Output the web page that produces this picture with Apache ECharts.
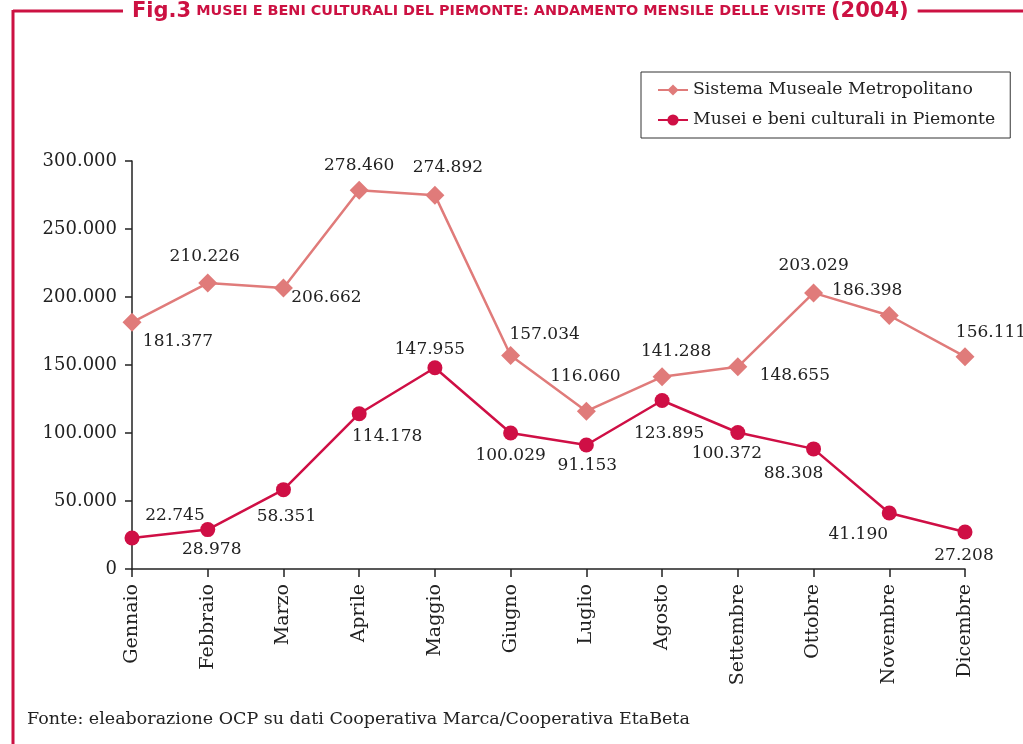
<!DOCTYPE html>
<html>
<head>
<meta charset="utf-8">
<script src="https://cdn.jsdelivr.net/npm/echarts@6/dist/echarts.min.js"></script>
<style>
  html, body { margin: 0; padding: 0; background: #fff; }
  #chart { width: 1023px; height: 744px; }
</style>
</head>
<body>
<div id="chart"></div>
<script>
// dati
const months = ["Gennaio", "Febbraio", "Marzo", "Aprile", "Maggio", "Giugno",
  "Luglio", "Agosto", "Settembre", "Ottobre", "Novembre", "Dicembre"];
const sistemaMuseale = [181377, 210226, 206662, 278460, 274892, 157034,
  116060, 141288, 148655, 203029, 186398, 156111];
const museiPiemonte = [22745, 28978, 58351, 114178, 147955, 100029,
  91153, 123895, 100372, 88308, 41190, 27208];
const yTicks = [0, 50000, 100000, 150000, 200000, 250000, 300000];

// posizione delle etichette rispetto al punto
const offSistema = [[46, 19], [-3, -27], [43, 10], [0, -25], [13, -28], [34, -21],
  [-1, -35], [14, -25], [57, 9], [0, -27], [-22, -25], [26, -24]];
const offPiemonte = [[43, -22], [4, 20], [3, 27], [28, 23], [-5, -18], [0, 23],
  [1, 21], [7, 33], [-11, 21], [-20, 25], [-31, 22], [-1, 24]];

const PINK = "#e07b7a";
const RED = "#cf0f45";
const TITLE_RED = "#cc1142";
const serif = "DejaVu Serif";

// 300000 -> "300.000"
function fmt(v) {
  return String(v).replace(/\B(?=(\d{3})+(?!\d))/g, ".");
}

function withLabels(values, offsets) {
  return values.map((v, i) => ({
    value: v,
    label: { offset: offsets[i] }
  }));
}

const labelStyle = {
  show: true,
  position: "inside",
  align: "center",
  verticalAlign: "middle",
  color: "#222",
  fontFamily: serif,
  fontSize: 17,
  formatter: p => fmt(p.value)
};

const myChart = echarts.init(document.getElementById("chart"));
const option = {
  animation: false,
  backgroundColor: "#fff",
  title: {
    text: "{big|Fig.3} {small|MUSEI E BENI CULTURALI DEL PIEMONTE: ANDAMENTO MENSILE DELLE VISITE} {big|(2004)}",
    left: 123,
    top: 1,
    padding: [0, 9],
    backgroundColor: "#fff",
    textStyle: {
      rich: {
        big: { fontFamily: "DejaVu Sans", fontWeight: "bold", fontSize: 21, color: TITLE_RED },
        small: { fontFamily: "DejaVu Sans", fontWeight: "bold", fontSize: 14.4, color: TITLE_RED }
      }
    },
    z: 10
  },
  graphic: [
    { type: "line", shape: { x1: 13, y1: 11, x2: 1023, y2: 11 }, style: { stroke: TITLE_RED, lineWidth: 3 }, z: 0 },
    { type: "line", shape: { x1: 13, y1: 10, x2: 13, y2: 744 }, style: { stroke: TITLE_RED, lineWidth: 3 } },
    {
      type: "text", left: 27, top: 710,
      style: { text: "Fonte: eleaborazione OCP su dati Cooperativa Marca/Cooperativa EtaBeta", fontFamily: serif, fontSize: 17.5, fill: "#222" }
    }
  ],
  legend: {
    orient: "vertical",
    left: 641,
    top: 72,
    padding: [8, 15, 8, 16],
    itemGap: 10,
    itemWidth: 30,
    itemHeight: 14,
    borderColor: "#333",
    borderWidth: 1,
    textStyle: { fontFamily: serif, fontSize: 17.3, lineHeight: 20, color: "#222" },
    data: ["Sistema Museale Metropolitano", "Musei e beni culturali in Piemonte"]
  },
  grid: { left: 132, right: 58, top: 161, bottom: 175 },
  xAxis: {
    type: "category",
    boundaryGap: false,
    data: months,
    axisLine: { lineStyle: { color: "#222", width: 1.5 } },
    axisTick: { length: 8, lineStyle: { color: "#222", width: 1.5 } },
    axisLabel: { rotate: 90, margin: 15, color: "#222", fontFamily: serif, fontSize: 19 }
  },
  yAxis: {
    type: "value",
    min: yTicks[0],
    max: yTicks[yTicks.length - 1],
    interval: 50000,
    axisLine: { show: true, lineStyle: { color: "#222", width: 1.5 } },
    axisTick: { show: true, length: 7, lineStyle: { color: "#222", width: 1.5 } },
    splitLine: { show: false },
    axisLabel: { margin: 15, color: "#222", fontFamily: serif, fontSize: 18, formatter: v => fmt(v) }
  },
  series: [
    {
      name: "Sistema Museale Metropolitano",
      type: "line",
      symbol: "diamond",
      symbolSize: 19,
      lineStyle: { color: PINK, width: 2.5 },
      itemStyle: { color: PINK },
      label: labelStyle,
      data: withLabels(sistemaMuseale, offSistema)
    },
    {
      name: "Musei e beni culturali in Piemonte",
      type: "line",
      symbol: "circle",
      symbolSize: 15,
      lineStyle: { color: RED, width: 2.5 },
      itemStyle: { color: RED },
      label: labelStyle,
      data: withLabels(museiPiemonte, offPiemonte)
    }
  ]
};
myChart.setOption(option);
</script>
</body>
</html>
